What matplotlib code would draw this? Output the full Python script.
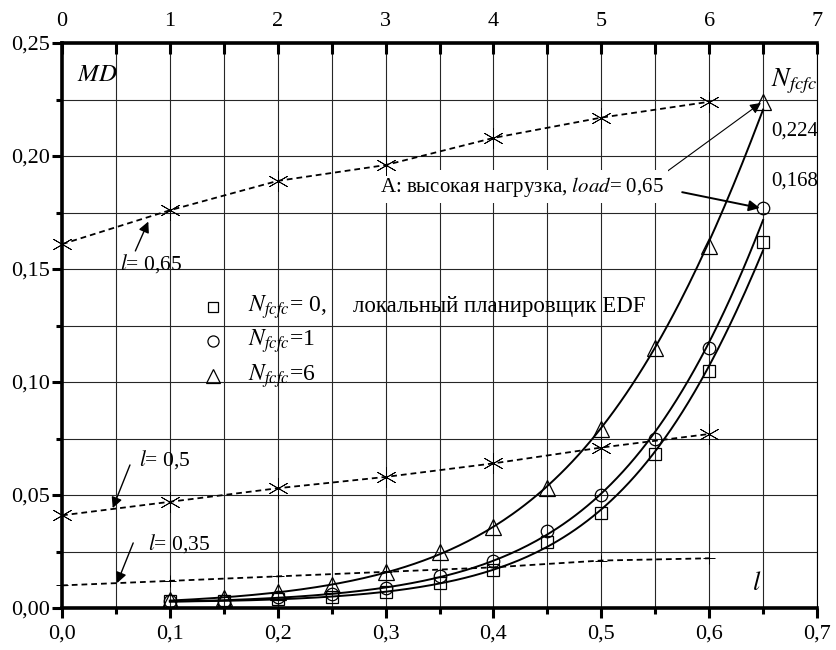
import matplotlib
matplotlib.use('Agg')
import matplotlib.pyplot as plt
import numpy as np
from matplotlib.ticker import MultipleLocator, FuncFormatter

# MD vs load l (bottom axis) for three values of N_fcfc
load = np.array([0.1, 0.15, 0.2, 0.25, 0.3, 0.35, 0.4, 0.45, 0.5, 0.55, 0.6, 0.65])
md_n0 = np.array([0.003, 0.003, 0.004, 0.005, 0.007, 0.011, 0.017, 0.029, 0.042, 0.068, 0.105, 0.162])
md_n1 = np.array([0.003, 0.003, 0.005, 0.006, 0.009, 0.014, 0.021, 0.034, 0.050, 0.075, 0.115, 0.177])
md_n6 = np.array([0.0034, 0.0045, 0.007, 0.010, 0.016, 0.025, 0.036, 0.053, 0.079, 0.115, 0.160, 0.224])

# MD vs N_fcfc (top axis) for three fixed loads
nfcfc = np.array([0, 1, 2, 3, 4, 5, 6])
md_l065 = np.array([0.161, 0.176, 0.189, 0.196, 0.208, 0.217, 0.224])
md_l050 = np.array([0.041, 0.047, 0.053, 0.058, 0.064, 0.071, 0.077])
md_l035 = np.array([0.010, 0.012, 0.014, 0.016, 0.018, 0.021, 0.022])

plt.rcParams['font.family'] = ['Liberation Serif', 'DejaVu Serif']
plt.rcParams['mathtext.fontset'] = 'stix'


def comma(v, pos, nd):
    return f'{v:.{nd}f}'.replace('.', ',')


def arrow(ax, head, tail, lw=1.0):
    ax.annotate('', xy=head, xytext=tail,
                arrowprops=dict(arrowstyle='-|>', color='k', lw=lw, mutation_scale=16,
                                shrinkA=0, shrinkB=0))


def main():
    fig = plt.figure(figsize=(8.37, 6.5), dpi=100)
    ax = fig.add_axes([0.0741, 0.0646, 0.9020, 0.8692])
    ax.set_xlim(0, 0.7)
    ax.set_ylim(0, 0.25)

    ax.xaxis.set_major_locator(MultipleLocator(0.1))
    ax.xaxis.set_minor_locator(MultipleLocator(0.05))
    ax.yaxis.set_major_locator(MultipleLocator(0.05))
    ax.yaxis.set_minor_locator(MultipleLocator(0.025))
    ax.xaxis.set_major_formatter(FuncFormatter(lambda v, p: comma(v, p, 1)))
    ax.yaxis.set_major_formatter(FuncFormatter(lambda v, p: comma(v, p, 2)))
    ax.grid(which='both', color='0.15', lw=0.8)
    ax.set_axisbelow(True)
    ax.tick_params(which='major', direction='out', length=7, width=2.2, labelsize=16)
    ax.tick_params(which='minor', direction='out', length=4, width=2.2)
    ax.tick_params(axis='x', pad=5)
    ax.tick_params(axis='y', pad=2)
    for s in ['left', 'bottom', 'top']:
        ax.spines[s].set_linewidth(2.6)
    ax.spines['right'].set_linewidth(0.8)

    # fitted curves through the marker series
    lf = np.linspace(0.1, 0.65, 200)
    for y, mk, ms in [(md_n0, 's', 8), (md_n1, 'o', 9), (md_n6, '^', 11)]:
        c = np.polyfit(load, np.log(y), 3)
        ax.plot(lf, np.exp(np.polyval(c, lf)), color='k', lw=1.4, zorder=3)
        ax.plot(load, y, ls='none', marker=mk, ms=ms, mfc='none', mec='k',
                mew=0.9, zorder=4, clip_on=False)

    # top axis: N_fcfc
    ax2 = ax.twiny()
    ax2.set_xlim(0, 7)
    ax2.xaxis.set_major_locator(MultipleLocator(1))
    ax2.xaxis.set_minor_locator(MultipleLocator(0.5))
    ax2.tick_params(which='major', direction='in', length=8, width=2.2, labelsize=16, pad=9)
    ax2.tick_params(which='minor', direction='in', length=8, width=2.2)
    for s in ax2.spines.values():
        s.set_visible(False)
    dash = (0, (3.2, 2.2))
    star = (6, 2, 0)
    ax2.plot(nfcfc, md_l065, color='k', ls=dash, lw=1.3, marker=star, ms=15, mew=0.6, clip_on=False)
    ax2.plot(nfcfc, md_l050, color='k', ls=dash, lw=1.3, marker=star, ms=15, mew=0.6, clip_on=False)
    ax2.plot(nfcfc, md_l035, color='k', ls=dash, lw=1.3, marker='+', ms=8, mew=0.7, clip_on=False)

    # labels
    ax.text(0.033, 0.236, r'$MD$', fontsize=18, ha='center', va='center')
    ax.text(0.679, 0.233, r'$N_{fcfc}$', fontsize=19, ha='center', va='center')
    ax.text(0.658, 0.211, '0,224', fontsize=15, ha='left', va='center')
    ax.text(0.658, 0.189, '0,168', fontsize=15, ha='left', va='center')
    ax.text(0.644, 0.011, r'$l$', fontsize=19, ha='center', va='center')

    ax.text(0.426, 0.1865, 'A: высокая нагрузка, ' + r'$load$' + '= 0,65', fontsize=15,
            ha='center', va='center', zorder=5,
            bbox=dict(facecolor='white', edgecolor='none', pad=3))
    arrow(ax, (0.648, 0.2235), (0.559, 0.1925), lw=0.8)
    arrow(ax, (0.647, 0.177), (0.575, 0.184), lw=1.4)

    ax.text(0.083, 0.1525, r'$l$= 0,65', fontsize=15.5, ha='center', va='center')
    arrow(ax, (0.080, 0.171), (0.068, 0.158))
    ax.text(0.0955, 0.0655, r'$l$= 0,5', fontsize=15.5, ha='center', va='center')
    arrow(ax, (0.047, 0.0442), (0.063, 0.0633))
    ax.text(0.109, 0.0285, r'$l$= 0,35', fontsize=15.5, ha='center', va='center')
    arrow(ax, (0.051, 0.011), (0.066, 0.0288))

    # legend drawn as text
    lx = 0.14
    for y, mk, ms, lab in [(0.1333, 's', 7, r'$N_{fcfc}$= 0,'),
                           (0.1183, 'o', 8, r'$N_{fcfc}$=1'),
                           (0.1027, '^', 10, r'$N_{fcfc}$=6')]:
        ax.plot([lx], [y], marker=mk, ms=ms, mfc='none', mec='k', mew=0.9, ls='none')
        ax.text(0.172, y, lab, fontsize=17, ha='left', va='center')
    ax.text(0.27, 0.1333, 'локальный планировщик EDF', fontsize=16.5, ha='left', va='center')

    fig.savefig('out.png', dpi=100)


if __name__ == '__main__':
    main()
